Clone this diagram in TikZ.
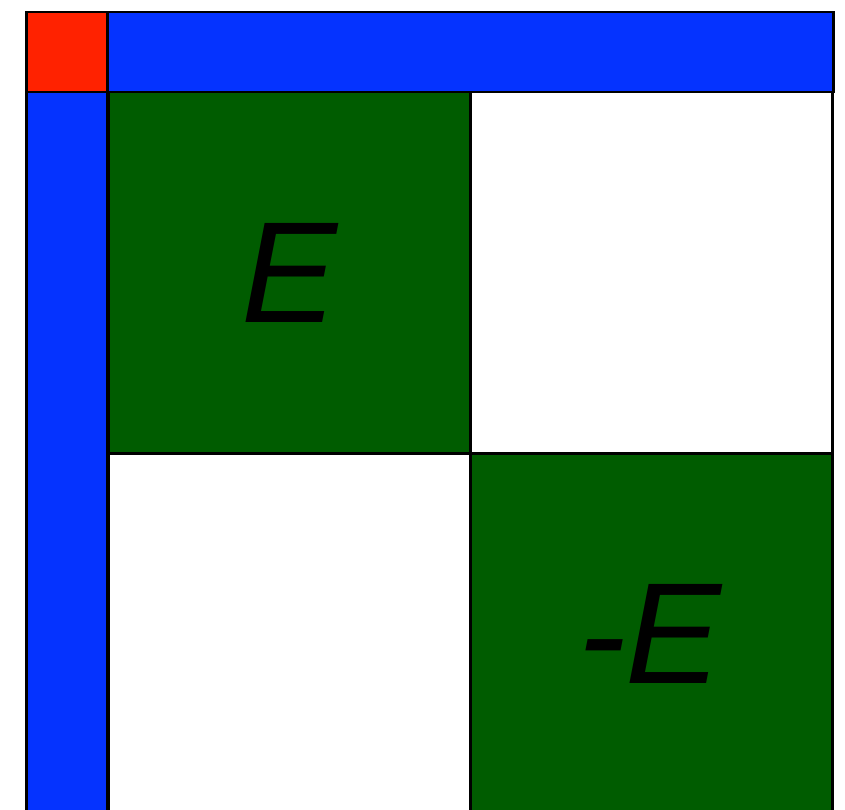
\documentclass[tikz,border=0pt]{standalone}
\usepackage{fontspec}
\setmainfont{Liberation Sans}
\definecolor{cred}{HTML}{FF2200}
\definecolor{cblue}{HTML}{0533FF}
\definecolor{cgreen}{HTML}{005C00}
\begin{document}
\begin{tikzpicture}[x=1pt,y=-1pt,
  blk/.style={draw=black,line width=2.5pt,rectangle,inner sep=0pt,anchor=north west},
  big/.style={font=\fontsize{144}{144}\selectfont\itshape}]
\useasboundingbox (0,0) rectangle (845,810);
\node[blk,fill=cred,minimum width=81pt,minimum height=80pt] (corner) at (25,11) {};
\node[blk,fill=cblue,minimum width=726pt,minimum height=80pt] (top) at (106,11) {};
\node[blk,fill=cblue,minimum width=81pt,minimum height=730pt] (left) at (25,91) {};
\node[blk,fill=cgreen,minimum width=362pt,minimum height=361pt,big] (e) at (107,91) {E};
\node[blk,fill=white,minimum width=362pt,minimum height=361pt] (w1) at (469,91) {};
\node[blk,fill=white,minimum width=362pt,minimum height=370pt] (w2) at (107,452) {};
\node[blk,fill=cgreen,minimum width=362pt,minimum height=370pt] (me) at (469,452) {};
\node[big] at (650,634) {-E};
\end{tikzpicture}
\end{document}
